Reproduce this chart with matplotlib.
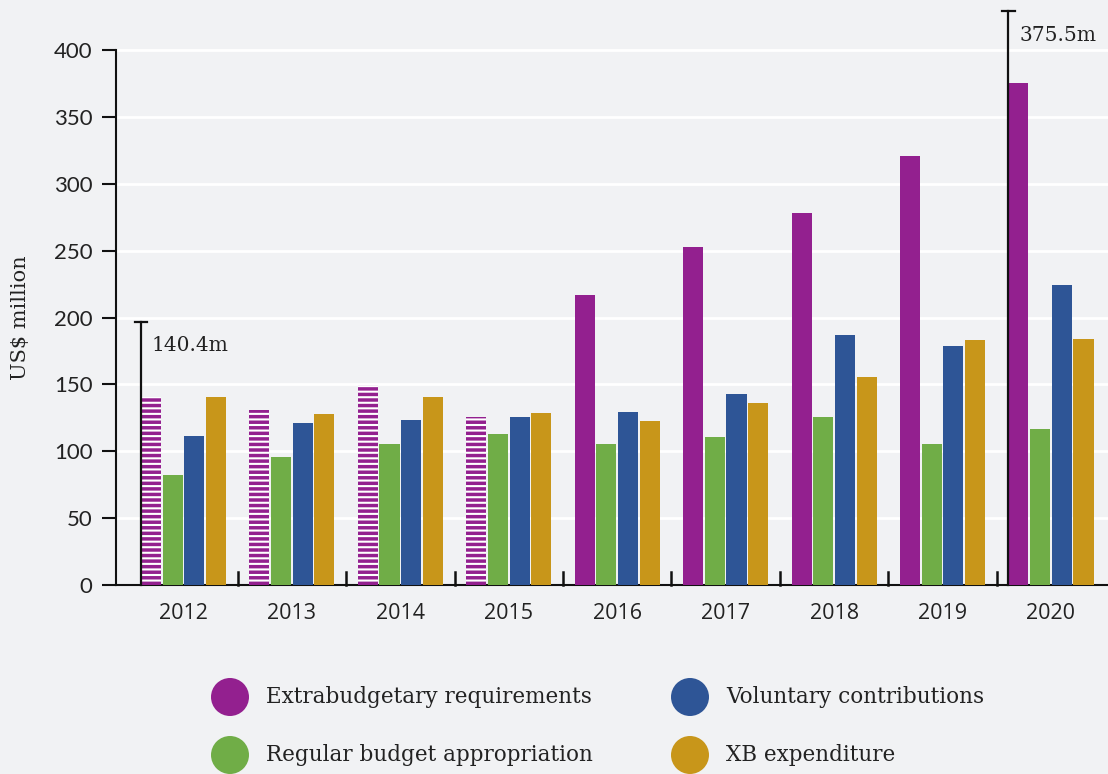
import matplotlib
matplotlib.use("Agg")
import matplotlib.pyplot as plt
from matplotlib.patches import Circle
import numpy as np

# ---- data (US$ million) ----
years = ["2012", "2013", "2014", "2015", "2016", "2017", "2018", "2019", "2020"]
series_names = ["Extrabudgetary requirements", "Regular budget appropriation",
                "Voluntary contributions", "XB expenditure"]
xb_requirements = [140.4, 130.8, 149.5, 125.6, 216.8, 252.7, 278.1, 320.7, 375.5]
regular_budget = [82.2, 95.7, 105.4, 112.9, 105.4, 110.7, 125.6, 105.4, 116.6]
voluntary = [111.4, 121.1, 123.4, 125.6, 129.3, 142.8, 186.9, 178.7, 224.3]
xb_expenditure = [140.6, 127.9, 140.6, 128.6, 122.6, 136.1, 155.5, 183.2, 183.9]
requirements_estimated = [True, True, True, True, False, False, False, False, False]
y_ticks = [0, 50, 100, 150, 200, 250, 300, 350, 400]

# ---- styling ----
BG = "#f1f2f4"
colors = ["#93208f", "#70ad47", "#2e5596", "#c8961a"]
TEXT = "#222222"
SERIF = ["DejaVu Serif"]
SANS = ["Open Sans", "DejaVu Sans"]

plt.rcParams["hatch.linewidth"] = 1.5
plt.rcParams["hatch.color"] = "white"

W, H = 1108, 774
fig = plt.figure(figsize=(W / 100, H / 100), dpi=100, facecolor=BG)
ax = fig.add_axes([116 / W, 1 - 585 / H, 1 - 116 / W, (585 - 8) / H])
ax.set_facecolor(BG)

x = np.arange(len(years))
step = 0.2
width = 0.185
all_series = [xb_requirements, regular_budget, voluntary, xb_expenditure]
for i, (vals, col) in enumerate(zip(all_series, colors)):
    offs = x + (i - 1.5) * step
    if i == 0:
        for xi, v, est in zip(offs, vals, requirements_estimated):
            if est:
                ax.bar(xi, v, width=width, color=col, edgecolor="white",
                       linewidth=0, hatch="---", zorder=3)
            else:
                ax.bar(xi, v, width=width, color=col, linewidth=0, zorder=3)
    else:
        ax.bar(offs, vals, width=width, color=col, linewidth=0, zorder=3)

ax.set_xlim(-0.6225, 8.526)
ymax = 577 / 1.3375
ax.set_ylim(0, ymax)

# white gridlines
for t in y_ticks[1:]:
    ax.axhline(t, color="white", lw=2, zorder=1)

for s in ["top", "right"]:
    ax.spines[s].set_visible(False)
ax.spines["left"].set_bounds(0, 400)
ax.spines["left"].set_linewidth(1.5)
ax.spines["bottom"].set_linewidth(1.5)
ax.spines["left"].set_color("#111111")
ax.spines["bottom"].set_color("#111111")

ax.set_yticks(y_ticks)
ax.set_yticklabels([str(t) for t in y_ticks], family=["Lato", "DejaVu Sans"],
                   fontsize=16, color=TEXT)
ax.tick_params(axis="y", length=10, width=1.5, pad=7, color="#111111")

ax.set_xticks(x)
ax.set_xticklabels(years, family=SANS, fontsize=15.5, color=TEXT)
ax.tick_params(axis="x", length=0, pad=13)

# group separators on the x-axis
for b in x[:-1] + 0.5:
    ax.plot([b, b], [0, 10], color="#111111", lw=1.8, zorder=4, clip_on=False)

ax.set_ylabel("US$ million", family=SERIF, fontsize=15, color=TEXT)
ax.yaxis.set_label_coords(-0.087, (585 - 318) / 577)

# value markers for the first and last requirement bars
def marker(idx, top, label, label_y):
    xl = x[idx] - 1.5 * step - width / 2
    ax.plot([xl, xl], [0, top], color="#111111", lw=1.6, zorder=5, clip_on=False)
    ax.plot([xl - 0.058, xl + 0.058], [top, top], color="#111111", lw=1.6,
            zorder=5, clip_on=False)
    ax.text(xl + 0.1, label_y, label, family=SERIF, fontsize=14.5, color=TEXT,
            va="center", ha="left", zorder=6)

marker(0, 196.6, f"{xb_requirements[0]}m", 179.4)
marker(8, 429.4, f"{xb_requirements[-1]}m", 411)

# legend drawn in pixel space
lax = fig.add_axes([0, 0, 1, 1])
lax.set_xlim(0, W)
lax.set_ylim(H, 0)
lax.axis("off")
lax.patch.set_visible(False)
legend_pos = [(230, 697), (230, 755), (690, 697), (690, 755)]
legend_order = [0, 1, 2, 3]
for (cx, cy), k in zip(legend_pos, legend_order):
    lax.add_patch(Circle((cx, cy), 19, color=colors[k], lw=0))
    lax.text(cx + 36, cy, series_names[k], family=SERIF, fontsize=15.5,
             color=TEXT, va="center", ha="left")

fig.savefig("out.png", dpi=100, facecolor=BG)
